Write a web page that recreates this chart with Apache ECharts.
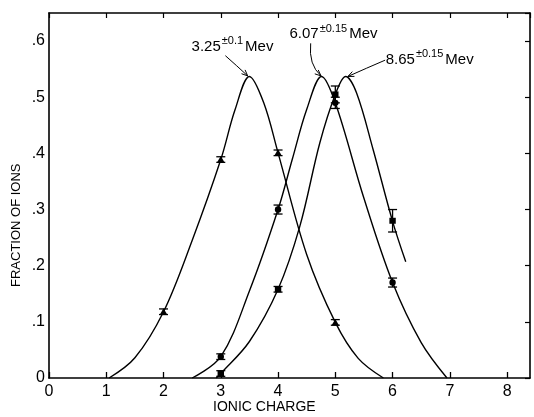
<!DOCTYPE html>
<html>
<head>
<meta charset="utf-8">
<script src="https://cdn.jsdelivr.net/npm/echarts@6/dist/echarts.min.js"></script>
<style>html,body{margin:0;padding:0;background:#fff;}#c{width:534px;height:417px;}</style>
</head>
<body>
<div id="c"></div>
<script>
// ---- data ----
const xTicks = [0, 1, 2, 3, 4, 5, 6, 7, 8];
const yTickLabels = ['0', '.1', '.2', '.3', '.4', '.5', '.6'];

// measured points (ionic charge, fraction, error)
const ptsA_x = [2, 3, 4, 5];
const ptsA_y = [0.118, 0.389, 0.401, 0.099];
const ptsA_e = [0.005, 0.005, 0.005, 0.005];

const ptsB_x = [3, 4, 5, 6];
const ptsB_y = [0.038, 0.300, 0.490, 0.170];
const ptsB_e = [0.005, 0.008, 0.010, 0.008];

const ptsC_x = [3, 4, 5, 6];
const ptsC_y = [0.008, 0.158, 0.505, 0.280];
const ptsC_e = [0.005, 0.005, 0.015, 0.020];

// hand-drawn curves
const curveA = [[1.05,0],[1.5,0.036],[2,0.118],[2.5,0.245],[3,0.389],[3.25,0.478],[3.5,0.537],[3.75,0.49],[4,0.401],[4.5,0.22],[5,0.099],[5.4,0.035],[5.84,0]];
const curveB = [[2.5,0],[3,0.038],[3.5,0.155],[4,0.30],[4.25,0.39],[4.5,0.478],[4.76,0.537],[5,0.49],[5.5,0.32],[6,0.17],[6.5,0.063],[6.95,0]];
const curveC = [[2.92,0],[3,0.008],[3.5,0.065],[4,0.158],[4.38,0.27],[4.73,0.419],[5,0.505],[5.18,0.537],[5.37,0.508],[5.66,0.407],[6,0.279],[6.23,0.207]];

// peak annotations
const labelMain = ['3.25', '6.07', '8.65'];
const labelSup = ['\u00b10.1', '\u00b10.15', '\u00b10.15'];
const labelUnit = 'Mev';
const labelX = [2.49, 4.20, 5.88];
const labelY = [0.590, 0.612, 0.567];
const arrowFrom = [[3.08, 0.574], [4.57, 0.596], [5.87, 0.566]];
const arrowCtrl = [[3.28, 0.556], [4.53, 0.558], [5.55, 0.552]];
const arrowTo = [[3.47, 0.538], [4.75, 0.538], [5.22, 0.537]];

const FONT = '"Liberation Sans", Arial, sans-serif';

function pointSeries(xs, ys, es, shape) {
  return {
    type: 'custom',
    xAxisIndex: 0, yAxisIndex: 0,
    z: 5,
    data: xs.map((x, i) => [x, ys[i], es[i]]),
    renderItem: function (params, api) {
      const x = api.value(0), y = api.value(1), e = api.value(2);
      const p = api.coord([x, y]);
      const t = api.coord([x, y + e]);
      const b = api.coord([x, y - e]);
      const cw = 4.5;
      const st = { stroke: '#000', lineWidth: 1.3 };
      const ch = [
        { type: 'line', shape: { x1: p[0], y1: t[1], x2: p[0], y2: b[1] }, style: st },
        { type: 'line', shape: { x1: p[0] - cw, y1: t[1], x2: p[0] + cw, y2: t[1] }, style: st },
        { type: 'line', shape: { x1: p[0] - cw, y1: b[1], x2: p[0] + cw, y2: b[1] }, style: st }
      ];
      if (shape === 'tri') {
        ch.push({ type: 'polygon', shape: { points: [[p[0], p[1] - 3.5], [p[0] + 3.8, p[1] + 3], [p[0] - 3.8, p[1] + 3]] }, style: { fill: '#000' } });
      } else if (shape === 'circle') {
        ch.push({ type: 'circle', shape: { cx: p[0], cy: p[1], r: 3.2 }, style: { fill: '#000' } });
      } else {
        ch.push({ type: 'rect', shape: { x: p[0] - 3.2, y: p[1] - 3, width: 6.4, height: 6 }, style: { fill: '#000' } });
      }
      return { type: 'group', children: ch };
    }
  };
}

function curveSeries(data) {
  return {
    type: 'line', data: data, smooth: 0.35, showSymbol: false, symbol: 'none',
    lineStyle: { color: '#000', width: 1.4 }, z: 3, silent: true
  };
}

const chart = echarts.init(document.getElementById('c'), null, { renderer: 'canvas' });

const axisLineStyle = { show: true, onZero: false, lineStyle: { color: '#000', width: 1.6 } };

chart.setOption({
  animation: false,
  backgroundColor: '#fff',
  grid: { left: 49, right: 4, top: 13, bottom: 39, containLabel: false },
  xAxis: [
    {
      type: 'value', position: 'bottom', min: 0, max: 8.4, interval: 1,
      axisLine: axisLineStyle,
      axisTick: { show: true, inside: true, length: 6, lineStyle: { color: '#000', width: 1.3 } },
      axisLabel: {
        color: '#000', fontSize: 16, fontFamily: FONT, margin: 6, showMaxLabel: false,
        formatter: function (v) { return xTicks.indexOf(v) >= 0 ? String(v) : ''; }
      },
      splitLine: { show: false }
    },
    {
      type: 'value', position: 'top', min: 0, max: 8.4, interval: 1,
      axisLine: axisLineStyle,
      axisTick: { show: true, inside: true, length: 5, lineStyle: { color: '#000', width: 1.2 } },
      axisLabel: { show: false },
      splitLine: { show: false }
    }
  ],
  yAxis: [
    {
      type: 'value', position: 'left', min: 0, max: 0.65, interval: 0.1,
      axisLine: axisLineStyle,
      axisTick: { show: false },
      axisLabel: {
        color: '#000', fontSize: 16, fontFamily: FONT, margin: 4, showMaxLabel: false,
        formatter: function (v) { const i = Math.round(v * 10); return (Math.abs(v * 10 - i) < 1e-6 && yTickLabels[i] !== undefined) ? yTickLabels[i] : ''; }
      },
      splitLine: { show: false }
    },
    {
      type: 'value', position: 'right', min: 0, max: 0.65, interval: 0.1,
      axisLine: axisLineStyle,
      axisTick: { show: true, inside: true, length: 5, lineStyle: { color: '#000', width: 1.2 } },
      axisLabel: { show: false },
      splitLine: { show: false }
    }
  ],
  graphic: [
    { type: 'text', left: 213, top: 400, style: { text: 'IONIC CHARGE', fill: '#000', font: '14px ' + FONT } },
    { type: 'text', x: 10, y: 287, rotation: Math.PI / 2, style: { text: 'FRACTION OF IONS', fill: '#000', font: '13px ' + FONT, textVerticalAlign: 'top' } }
  ],
  series: [
    curveSeries(curveA),
    curveSeries(curveB),
    curveSeries(curveC),
    pointSeries(ptsA_x, ptsA_y, ptsA_e, 'tri'),
    pointSeries(ptsB_x, ptsB_y, ptsB_e, 'circle'),
    pointSeries(ptsC_x, ptsC_y, ptsC_e, 'rect'),
    {
      type: 'custom', z: 6,
      data: labelX.map((x, i) => [x, labelY[i], i]),
      renderItem: function (params, api) {
        const i = api.value(2);
        const p = api.coord([api.value(0), api.value(1)]);
        return {
          type: 'text', x: p[0], y: p[1],
          style: {
            text: '{m|' + labelMain[i] + '}{s|' + labelSup[i] + '}{u|' + labelUnit + '}',
            textAlign: 'left', textVerticalAlign: 'middle',
            rich: {
              m: { fontSize: 15, fontFamily: FONT, fill: '#000', color: '#000', lineHeight: 22 },
              s: { fontSize: 11, fontFamily: FONT, fill: '#000', color: '#000', lineHeight: 6, verticalAlign: 'top', padding: [0, 2, 0, 1] },
              u: { fontSize: 15, fontFamily: FONT, fill: '#000', color: '#000', lineHeight: 22 }
            }
          }
        };
      }
    },
    {
      type: 'custom', z: 6,
      data: arrowFrom.map((f, i) => [f[0], f[1], arrowCtrl[i][0], arrowCtrl[i][1], arrowTo[i][0], arrowTo[i][1]]),
      renderItem: function (params, api) {
        const a = api.coord([api.value(0), api.value(1)]);
        const c = api.coord([api.value(2), api.value(3)]);
        const b = api.coord([api.value(4), api.value(5)]);
        const dx = b[0] - c[0], dy = b[1] - c[1];
        const L = Math.sqrt(dx * dx + dy * dy) || 1;
        const ux = dx / L, uy = dy / L;
        const hl = 6, hw = 2.6;
        const h1 = [b[0] - ux * hl - uy * hw, b[1] - uy * hl + ux * hw];
        const h2 = [b[0] - ux * hl + uy * hw, b[1] - uy * hl - ux * hw];
        const st = { stroke: '#000', lineWidth: 1, fill: null };
        return {
          type: 'group', children: [
            { type: 'bezierCurve', shape: { x1: a[0], y1: a[1], x2: b[0], y2: b[1], cpx1: c[0], cpy1: c[1] }, style: st },
            { type: 'polyline', shape: { points: [h1, b, h2] }, style: st }
          ]
        };
      }
    }
  ]
});
</script>
</body>
</html>
